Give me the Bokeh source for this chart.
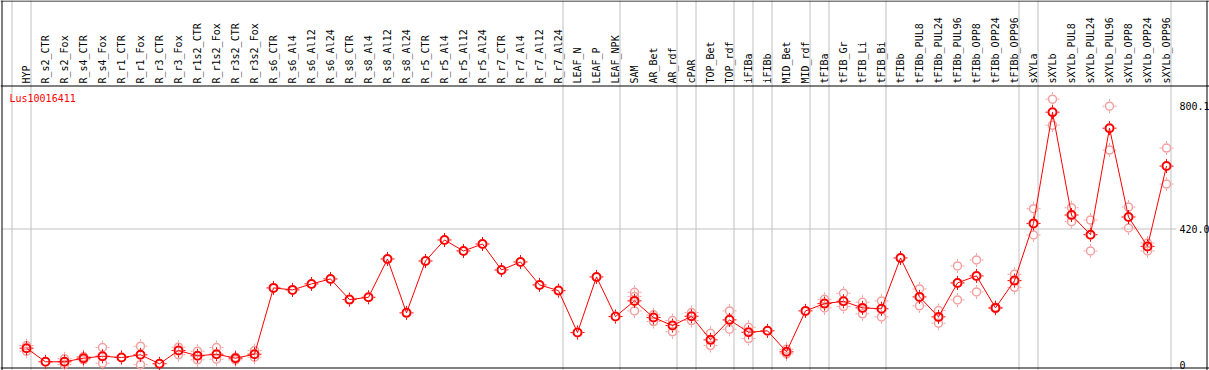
from bokeh.plotting import figure
from bokeh.models import Range1d, Span, LinearAxis, FixedTicker, CustomJSTickFormatter, Label, ColumnDataSource
from bokeh.core.properties import value
from bokeh.embed import file_html
from bokeh.resources import INLINE

# ---------------- data ----------------
gene_id = "Lus10016411"

categories = [
    "HYP", "R_s2_CTR", "R_s2_Fox", "R_s4_CTR", "R_s4_Fox", "R_r1_CTR", "R_r1_Fox",
    "R_r3_CTR", "R_r3_Fox", "R_r1s2_CTR", "R_r1s2_Fox", "R_r3s2_CTR", "R_r3s2_Fox",
    "R_s6_CTR", "R_s6_Al4", "R_s6_Al12", "R_s6_Al24", "R_s8_CTR", "R_s8_Al4", "R_s8_Al12",
    "R_s8_Al24", "R_r5_CTR", "R_r5_Al4", "R_r5_Al12", "R_r5_Al24", "R_r7_CTR", "R_r7_Al4",
    "R_r7_Al12", "R_r7_Al24", "LEAF_N", "LEAF_P", "LEAF_NPK", "SAM", "AR_Bet", "AR_rdf",
    "cPAR", "TOP_Bet", "TOP_rdf", "iFIBa", "iFIBb", "MID_Bet", "MID_rdf", "tFIBa",
    "tFIB_Gr", "tFIB_Li", "tFIB_Bi", "tFIBb", "tFIBb_PUL8", "tFIBb_PUL24", "tFIBb_PUL96",
    "tFIBb_OPP8", "tFIBb_OPP24", "tFIBb_OPP96", "sXYLa", "sXYLb", "sXYLb_PUL8",
    "sXYLb_PUL24", "sXYLb_PUL96", "sXYLb_OPP8", "sXYLb_OPP24", "sXYLb_OPP96",
]

means = [
    51.8, 9.9, 9.9, 21.0, 27.1, 23.1, 31.5, 3.7, 44.7, 28.4, 33.3, 21.0, 33.3,
    238.1, 231.9, 250.4, 265.8, 202.0, 209.1, 327.5, 161.0, 321.3, 386.1, 352.2, 373.7,
    293.6, 318.2, 247.3, 229.7, 100.2, 272.0, 149.6, 198.0, 146.5, 121.8, 150.5, 77.7,
    139.4, 101.1, 105.5, 40.7, 167.1, 189.6, 196.7, 176.4, 173.6, 330.6, 210.3, 148.6,
    253.5, 275.1, 176.4, 260.6, 437.3, 780.8, 463.2, 402.4, 731.4, 457.0, 366.3, 614.3,
]

replicates = [
    [60.1, 42.6], [], [19.1, 1.5], [26.2, 16.0], [54.0, 5.6], [], [58.0, 1.0], [],
    [54.9, 31.5], [42.6, 16.0], [54.0, 17.9], [16.0, 24.0], [44.7, 24.1],
    [], [], [], [], [], [], [], [], [], [], [], [], [], [], [], [],
    [], [], [],
    [224.5, 211.2, 167.1], [154.8, 134.1], [137.2, 102.4], [161.9, 137.2],
    [98.1, 60.1], [167.1, 110.4], [116.6, 81.7], [], [48.7, 34.5], [],
    [202.9, 176.4], [221.4, 180.4], [193.7, 157.9], [198.0, 148.6], [],
    [235.0, 182.6], [168.1, 128.9], [305.9, 201.1], [324.4, 225.7], [178.2, 174.2],
    [280.0, 239.9], [482.6, 401.5], [820.9, 740.7], [485.7, 442.5], [447.7, 352.2],
    [799.3, 663.6], [487.8, 423.1], [376.8, 352.2], [669.8, 558.8],
]

# sizes of the sample groups separated by grey rules
group_sizes = [1, 28, 3, 3, 1, 2, 1, 1, 2, 1, 3, 7, 1, 7]

y_ticks = [0, 420.0, 800.1]

# ---------------- geometry ----------------
W, H = 1209, 370
X0_PX, X_STEP = 26.0, 19.0        # pixel of first sample, pitch
Y0_PX, Y_SCALE = 364.5, 0.32381   # pixel of value 0, pixels per unit


def xd(px):
    return (px - X0_PX) / X_STEP


def yd(py):
    return (Y0_PX - py) / Y_SCALE


RED = "#ff0000"
PINK = "#f2a0a0"
GRAY = "#c0c0c0"
FONT = "DejaVu Sans Mono"

p = figure(
    width=W, height=H,
    x_range=Range1d(xd(0), xd(W)), y_range=Range1d(yd(H), yd(0)),
    output_backend="svg", toolbar_location=None,
    x_axis_location=None, y_axis_location=None,
    min_border=0, outline_line_color=None,
    background_fill_color="white", border_fill_color="white",
)
p.xgrid.visible = False
p.ygrid.visible = False

# group separators
bounds = [-1]
acc = -1
for g in group_sizes:
    acc += g
    bounds.append(acc)
for b in bounds:
    p.add_layout(Span(location=b + 4.5 / X_STEP, dimension="height",
                      line_color=GRAY, line_width=1, level="underlay"))

# horizontal rule at middle tick
p.segment(x0=[xd(1.5)], x1=[xd(1176)], y0=[y_ticks[1]], y1=[y_ticks[1]],
          line_color=GRAY, line_width=1, level="underlay")

# frame lines
for py in (0.5, 85.5, 367.5):
    p.add_layout(Span(location=yd(py), dimension="width", line_color="black",
                      line_width=1, level="underlay"))
for px in (1.5, 1206.5):
    p.add_layout(Span(location=xd(px), dimension="height", line_color="black",
                      line_width=1, level="underlay"))

# sample labels (header)
idx = list(range(len(categories)))
lab_src = ColumnDataSource(dict(x=idx, text=categories))
p.text(x="x", y=yd(83), text="text", source=lab_src, angle=1.5707963,
       text_align="left", text_baseline="middle",
       text_font=value(FONT), text_font_size="10px", text_color="black")

# gene id
p.add_layout(Label(x=xd(9), y=yd(92), text=gene_id, text_color=RED,
                   text_font=FONT, text_font_size="10px",
                   text_align="left", text_baseline="top"))

# value axis (drawn inside at right)
ax = LinearAxis(
    fixed_location=xd(1176),
    ticker=FixedTicker(ticks=y_ticks, minor_ticks=[]),
    formatter=CustomJSTickFormatter(code="return tick == 0 ? '0' : tick.toFixed(1);"),
    axis_line_color=None, major_tick_line_color=None, minor_tick_line_color=None,
    major_tick_in=0, major_tick_out=0, major_label_standoff=3,
    major_label_text_font=FONT, major_label_text_font_size="10px",
    major_label_text_color="black",
)
p.add_layout(ax, "right")

# replicates
rx = [i for i, reps in enumerate(replicates) for _ in reps]
ry = [v for reps in replicates for v in reps]
p.scatter(rx, ry, marker="cross", size=14, line_color=PINK, line_width=1, line_dash="2 10")
p.scatter(rx, ry, marker="circle", size=8, fill_color=None, line_color=PINK, line_width=1.5)

# means
p.line(idx, means, line_color=RED, line_width=1)
p.scatter(idx, means, marker="cross", size=14, line_color=RED, line_width=1, line_dash="2 10")
p.scatter(idx, means, marker="circle", size=8, fill_color=None, line_color=RED, line_width=2)

open("out.html", "w").write(file_html(p, INLINE))
